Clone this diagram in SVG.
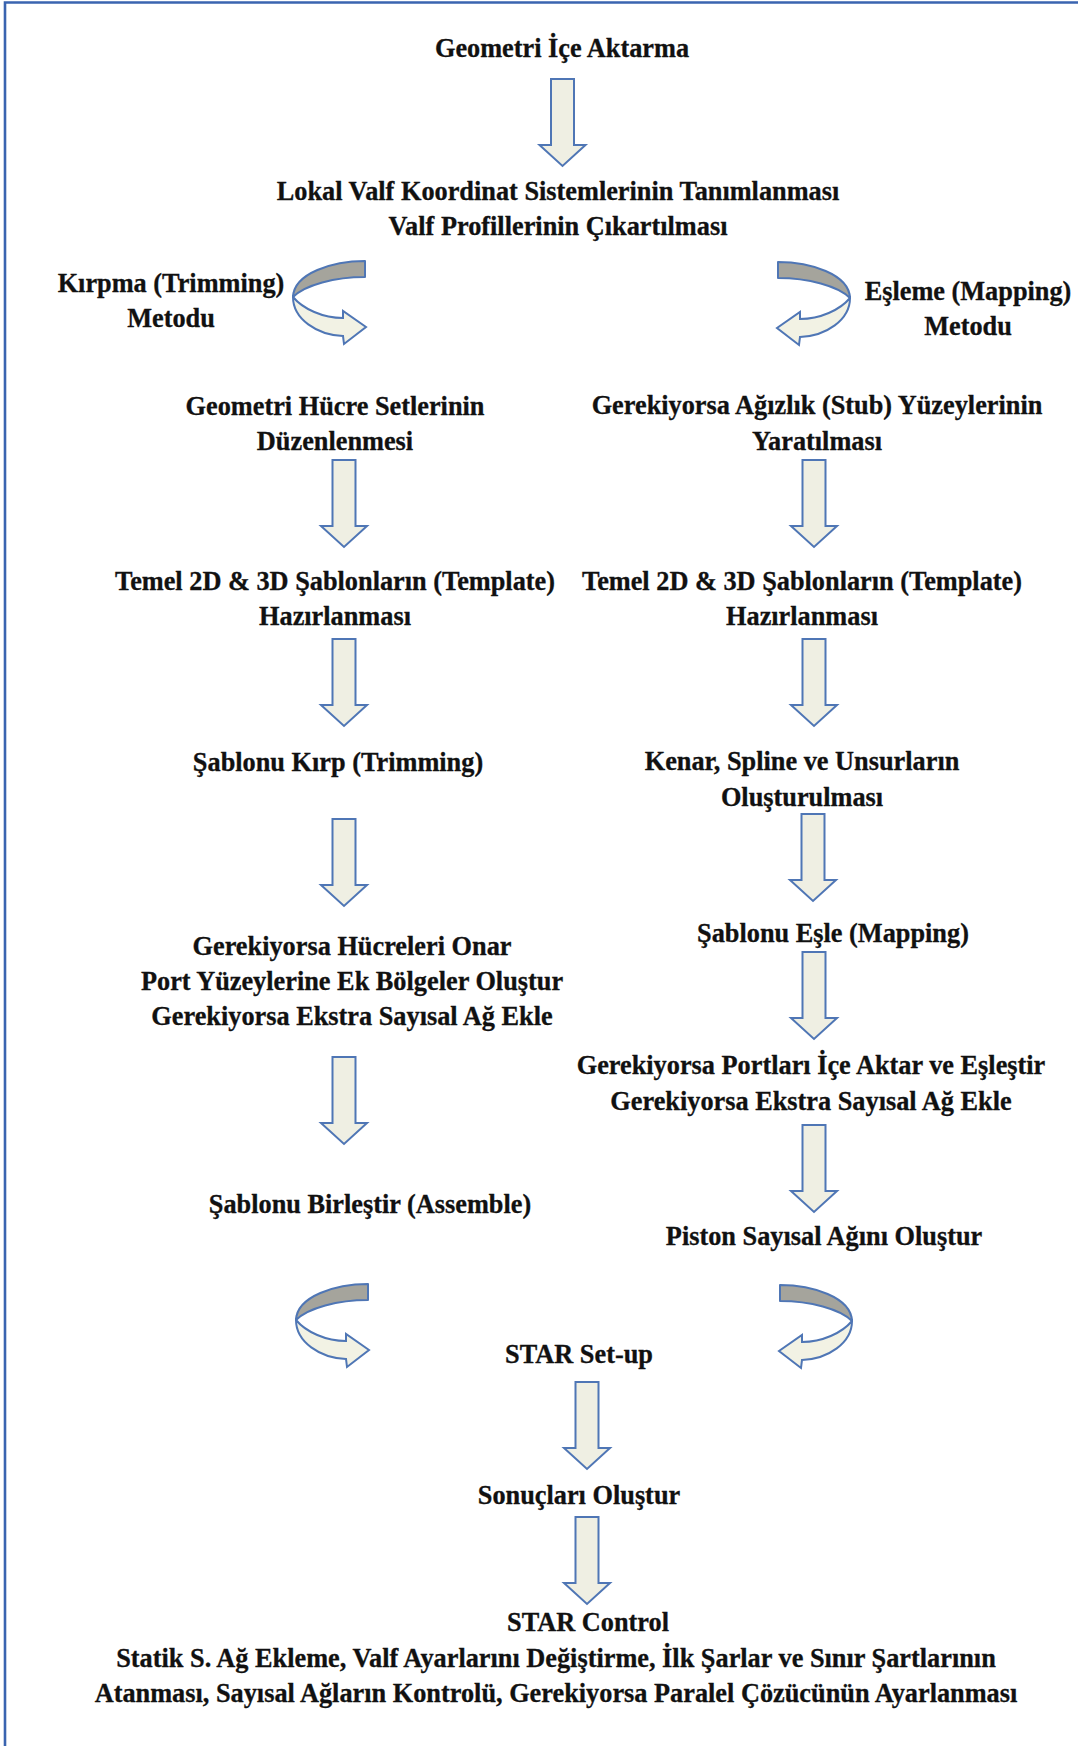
<svg xmlns="http://www.w3.org/2000/svg" xmlns:xlink="http://www.w3.org/1999/xlink" width="1078" height="1746" viewBox="0 0 1078 1746">
<style>
.t{font-family:"Liberation Serif","Times New Roman",serif;font-weight:bold;font-size:26.3px;text-anchor:middle;fill:#111111;stroke:#111111;stroke-width:0.3}
.arr{fill:#efefe3;stroke:#4f76b5;stroke-width:2;stroke-linejoin:miter}
.back{fill:#a5a49c;stroke:#4f76b5;stroke-width:2;stroke-linejoin:round}
.front{fill:#f2f2e4;stroke:#4f76b5;stroke-width:2;stroke-linejoin:miter}
</style>
<defs>
<path id="down" class="arr" d="M-11.5 0 H11.5 V66 H23 L0 87 L-23 66 H-11.5 Z"/>
<g id="curv">
<path class="back" d="M72 0 C40 0 1 12 0 36 C12 24 42 16 72 16 Z"/>
<path class="front" d="M0 36 C0 58 24 74 50 75 L51 83 L73 66 L50 50 L50 57 C30 57 10 48 0 36 Z"/>
</g>
</defs>
<rect x="0" y="0" width="1078" height="1746" fill="#ffffff"/>
<path d="M5 1746 V2.5 H1078" fill="none" stroke="#3a64b0" stroke-width="2.6"/>

<g id="connectors">
<use xlink:href="#down" x="562.5" y="79"/>
<use xlink:href="#down" x="344" y="460"/>
<use xlink:href="#down" x="344" y="639"/>
<use xlink:href="#down" x="344" y="819"/>
<use xlink:href="#down" x="344" y="1057"/>
<use xlink:href="#down" x="814" y="460"/>
<use xlink:href="#down" x="814" y="639"/>
<use xlink:href="#down" x="813" y="814"/>
<use xlink:href="#down" x="814" y="952"/>
<use xlink:href="#down" x="814" y="1125"/>
<use xlink:href="#down" x="587" y="1382"/>
<use xlink:href="#down" x="587" y="1517"/>
<use xlink:href="#curv" transform="translate(293,261)"/>
<use xlink:href="#curv" transform="translate(850,262) scale(-1,1)"/>
<use xlink:href="#curv" transform="translate(296,1284)"/>
<use xlink:href="#curv" transform="translate(852,1285) scale(-1,1)"/>
</g>

<g id="n_import"><text class="t" x="562" y="57">Geometri İçe Aktarma</text></g>
<g id="n_local"><text class="t" x="558" y="200">Lokal Valf Koordinat Sistemlerinin Tanımlanması</text><text class="t" x="558" y="235">Valf Profillerinin Çıkartılması</text></g>
<g id="n_trim_method"><text class="t" x="171" y="292">Kırpma (Trimming)</text><text class="t" x="171" y="327">Metodu</text></g>
<g id="n_map_method"><text class="t" x="968" y="300">Eşleme (Mapping)</text><text class="t" x="968" y="335">Metodu</text></g>

<g id="n_l1"><text class="t" x="335" y="415">Geometri Hücre Setlerinin</text><text class="t" x="335" y="450">Düzenlenmesi</text></g>
<g id="n_l2"><text class="t" x="335" y="590">Temel 2D &amp; 3D Şablonların (Template)</text><text class="t" x="335" y="625">Hazırlanması</text></g>
<g id="n_l3"><text class="t" x="338" y="771">Şablonu Kırp (Trimming)</text></g>
<g id="n_l4"><text class="t" x="352" y="955">Gerekiyorsa Hücreleri Onar</text><text class="t" x="352" y="990">Port Yüzeylerine Ek Bölgeler Oluştur</text><text class="t" x="352" y="1025">Gerekiyorsa Ekstra Sayısal Ağ Ekle</text></g>
<g id="n_l5"><text class="t" x="370" y="1213">Şablonu Birleştir (Assemble)</text></g>

<g id="n_r1"><text class="t" x="817" y="414">Gerekiyorsa Ağızlık (Stub) Yüzeylerinin</text><text class="t" x="817" y="450">Yaratılması</text></g>
<g id="n_r2"><text class="t" x="802" y="590">Temel 2D &amp; 3D Şablonların (Template)</text><text class="t" x="802" y="625">Hazırlanması</text></g>
<g id="n_r3"><text class="t" x="802" y="770">Kenar, Spline ve Unsurların</text><text class="t" x="802" y="806">Oluşturulması</text></g>
<g id="n_r4"><text class="t" x="833" y="942">Şablonu Eşle (Mapping)</text></g>
<g id="n_r5"><text class="t" x="811" y="1074">Gerekiyorsa Portları İçe Aktar ve Eşleştir</text><text class="t" x="811" y="1110">Gerekiyorsa Ekstra Sayısal Ağ Ekle</text></g>
<g id="n_r6"><text class="t" x="824" y="1245">Piston Sayısal Ağını Oluştur</text></g>

<g id="n_setup"><text class="t" x="579" y="1363">STAR Set-up</text></g>
<g id="n_results"><text class="t" x="579" y="1504">Sonuçları Oluştur</text></g>
<g id="n_control"><text class="t" x="588" y="1631">STAR Control</text><text class="t" x="556" y="1667">Statik S. Ağ Ekleme, Valf Ayarlarını Değiştirme, İlk Şarlar ve Sınır Şartlarının</text><text class="t" x="556" y="1702">Atanması, Sayısal Ağların Kontrolü, Gerekiyorsa Paralel Çözücünün Ayarlanması</text></g>
</svg>
